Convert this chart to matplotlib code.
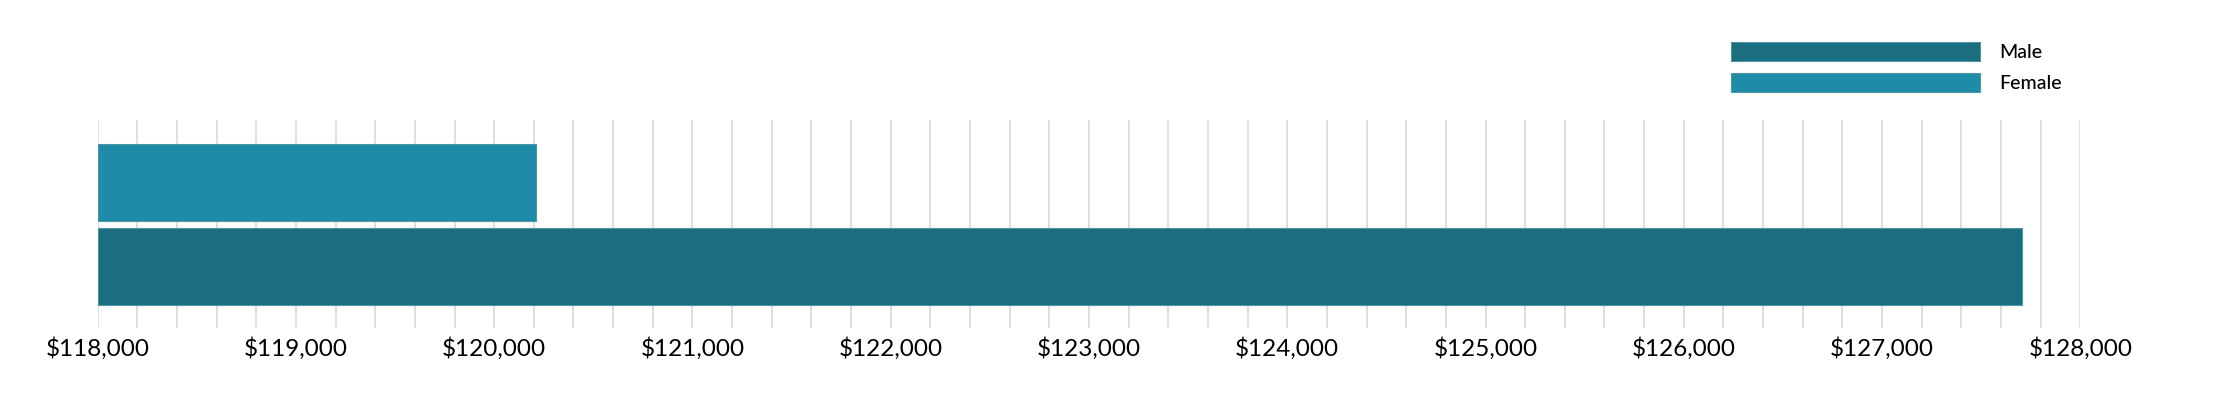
import matplotlib.pyplot as plt
from matplotlib.ticker import MultipleLocator, FuncFormatter

# data
groups = ['Male', 'Female']
salaries = [127706, 120212]
colors = ['#1a6e80', '#1e8ca8']
x_min, x_max = 118000, 128000

plt.rcParams['font.family'] = ['Lato', 'DejaVu Sans']

fig = plt.figure(figsize=(22.19, 3.98), dpi=100)
ax = fig.add_axes([0.044, 0.176, 0.8935, 0.522])

y_pos = [0, 1]
bars = []
for y, val, c, g in zip(y_pos, salaries, colors, groups):
    b = ax.barh(y, val - x_min, left=x_min, height=0.92, color=c,
                edgecolor='#4f95a5', linewidth=0.8, label=g)
    bars.append(b)

ax.set_xlim(x_min, x_max)
ax.set_ylim(-0.732, 1.744)
ax.xaxis.set_major_locator(MultipleLocator(1000))
ax.xaxis.set_minor_locator(MultipleLocator(200))
ax.xaxis.set_major_formatter(FuncFormatter(lambda v, p: '${:,.0f}'.format(v)))
ax.grid(axis='x', which='both', color='#dedede', linewidth=1.4)
ax.set_axisbelow(True)
ax.set_yticks([])
ax.tick_params(axis='x', which='both', length=0, pad=7, labelsize=17.5)
for s in ax.spines.values():
    s.set_visible(False)

fig.legend(handles=bars, labels=groups, loc='upper left',
           bbox_to_anchor=(0.7758, 0.918), frameon=False, borderpad=0,
           prop={'size': 14, 'weight': 'medium'}, handlelength=12.8,
           handleheight=1.1, handletextpad=1.0, labelspacing=0.6)

fig.savefig('out.png', dpi=100)
